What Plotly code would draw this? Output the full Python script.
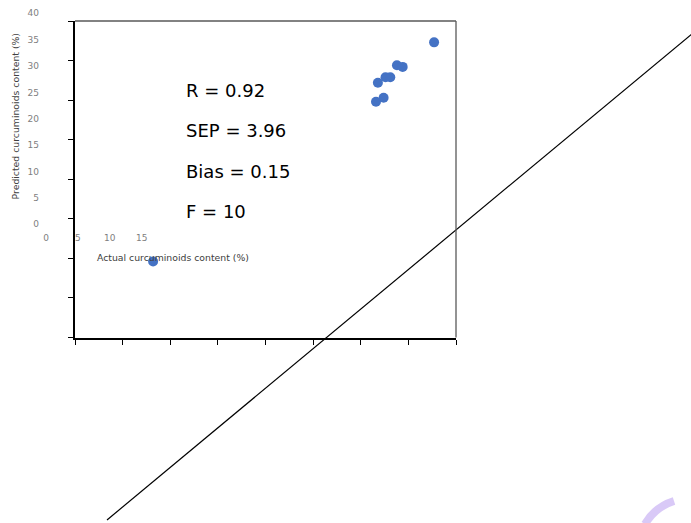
import plotly.graph_objects as go

# ---------------- data ----------------
actual = [37.7, 8.2, 33.8, 34.4, 32.6, 33.1, 31.8, 32.4, 31.6]
predicted = [37.3, 9.6, 34.4, 34.2, 32.9, 32.9, 32.2, 30.3, 29.8]
line_x = [3.36, 66.0]
line_y = [-23.06, 39.6]
x_label_ticks = [0, 5, 10, 15]
y_label_ticks = [0, 5, 10, 15, 20, 25, 30, 35, 40]
stats = ["R = 0.92", "SEP = 3.96", "Bias = 0.15", "F = 10"]
x_title = "Actual curcuminoids content (%)"
y_title = "Predicted curcuminoids content (%)"

# ---------------- geometry (pixels) ----------------
W, H = 691, 523
BX0, BX1, BYT, BYB = 75, 456, 21, 337.5
px_per_x = (BX1 - BX0) / 40.0
px_per_y = (BYB - BYT) / 40.0

def px(x):
    return x / W

def py(y):
    return 1 - y / H

fig = go.Figure()

fig.add_trace(go.Scatter(x=line_x, y=line_y, mode="lines",
                         line=dict(color="black", width=1.2),
                         xaxis="x", yaxis="y", showlegend=False, hoverinfo="skip"))

fig.add_trace(go.Scatter(x=actual, y=predicted, mode="markers",
                         marker=dict(color="#4472C4", size=10),
                         xaxis="x2", yaxis="y2", showlegend=False, cliponaxis=False))

fig.add_trace(go.Scatter(x=[None], y=[None], xaxis="x3", yaxis="y3",
                         showlegend=False, hoverinfo="skip"))

fig.update_layout(
    width=W, height=H,
    margin=dict(l=0, r=0, t=0, b=0, pad=0, autoexpand=False),
    paper_bgcolor="white",
    plot_bgcolor="rgba(0,0,0,0)",
    font=dict(family="DejaVu Sans"),
    xaxis=dict(domain=[0, 1], range=[(0 - BX0) / px_per_x, (W - BX0) / px_per_x],
               visible=False, fixedrange=True, automargin=False),
    yaxis=dict(domain=[0, 1], range=[(BYB - H) / px_per_y, BYB / px_per_y],
               visible=False, fixedrange=True, automargin=False),
    xaxis2=dict(domain=[px(BX0), px(BX1)], range=[0, 40], anchor="y2",
                tickvals=[0, 5, 10, 15, 20, 25, 30, 35, 40], showticklabels=False,
                ticks="outside", ticklen=5, tickcolor="black", tickwidth=1,
                showline=True, linecolor="black", linewidth=2,
                showgrid=False, zeroline=False, automargin=False),
    yaxis2=dict(domain=[py(BYB), py(BYT)], range=[0, 40], anchor="x2",
                tickvals=[0, 5, 10, 15, 20, 25, 30, 35, 40], showticklabels=False,
                ticks="outside", ticklen=5, tickcolor="black", tickwidth=1,
                showline=True, linecolor="black", linewidth=2,
                showgrid=False, zeroline=False, automargin=False),
    xaxis3=dict(domain=[px(46), px(141.7)], range=[0, 15], anchor="free",
                position=py(231), tickvals=x_label_ticks, ticks="",
                showline=False, showgrid=False, zeroline=False, automargin=False,
                tickfont=dict(size=9, color="#808080")),
    yaxis3=dict(domain=[py(224.3), py(13.3)], range=[0, 40], anchor="free",
                position=px(39), tickvals=y_label_ticks, ticks="",
                showline=False, showgrid=False, zeroline=False, automargin=False,
                tickfont=dict(size=9, color="#808080")),
)

fig.add_shape(type="line", xref="x2 domain", yref="y2 domain", x0=0, x1=1, y0=1, y1=1,
              line=dict(color="#595959", width=1.3))
fig.add_shape(type="line", xref="x2 domain", yref="y2 domain", x0=1, x1=1, y0=0, y1=1,
              line=dict(color="#595959", width=1.3))

fig.add_shape(type="path", xref="paper", yref="paper",
              path=f"M {px(645)},{py(524)} Q {px(655)},{py(507)} {px(674)},{py(501)}",
              line=dict(color="#d9c9f7", width=8))

for i, s in enumerate(stats):
    fig.add_annotation(text=s, xref="paper", yref="paper", x=px(184), y=py(90 + 40.6 * i),
                       xanchor="left", yanchor="middle", showarrow=False,
                       font=dict(size=18, color="black", family="DejaVu Sans"))

fig.add_annotation(text=x_title, xref="paper", yref="paper", x=px(172.5), y=py(257.7),
                   xanchor="center", yanchor="middle", showarrow=False,
                   font=dict(size=9.3, color="#404040"))
fig.add_annotation(text=y_title, xref="paper", yref="paper", x=px(15.7), y=py(116.7),
                   xanchor="center", yanchor="middle", showarrow=False, textangle=-90,
                   font=dict(size=9.3, color="#404040"))

fig.write_html("out.html", config={"displayModeBar": False},
               post_script="document.body.style.margin='0';document.body.style.overflow='hidden';")
